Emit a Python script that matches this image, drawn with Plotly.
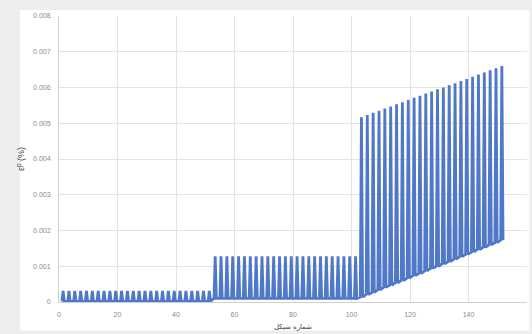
import plotly.graph_objects as go

# Per-cycle strain extremes (peak and trough of each loading cycle), three loading stages
peak_stage1 = [
    0.00031, 0.00031, 0.00031, 0.00031, 0.00031, 0.00031, 0.00031, 0.00031, 0.00031,
    0.00031, 0.00031, 0.00031, 0.00031, 0.00031, 0.00031, 0.00031, 0.00031, 0.00031,
    0.00031, 0.00031, 0.00031, 0.00031, 0.00031, 0.00031, 0.00031, 0.00031,
]
trough_stage1 = [
    0.00002, 0.00002, 0.00002, 0.00002, 0.00002, 0.00002, 0.00002, 0.00002, 0.00002,
    0.00002, 0.00002, 0.00002, 0.00002, 0.00002, 0.00002, 0.00002, 0.00002, 0.00002,
    0.00002, 0.00002, 0.00002, 0.00002, 0.00002, 0.00002, 0.00002, 0.00002,
]
peak_stage2 = [
    0.00128, 0.00128, 0.00128, 0.00128, 0.00128, 0.00128, 0.00128, 0.00128, 0.00128,
    0.00128, 0.00128, 0.00128, 0.00128, 0.00128, 0.00128, 0.00128, 0.00128, 0.00128,
    0.00128, 0.00128, 0.00128, 0.00128, 0.00128, 0.00128, 0.00128,
]
trough_stage2 = [
    0.00010, 0.00010, 0.00010, 0.00010, 0.00010, 0.00010, 0.00010, 0.00010, 0.00010,
    0.00010, 0.00010, 0.00010, 0.00010, 0.00010, 0.00010, 0.00010, 0.00010, 0.00010,
    0.00010, 0.00010, 0.00010, 0.00010, 0.00010, 0.00010, 0.00010,
]
peak_stage3 = [
    0.00517, 0.00523, 0.00529, 0.00535, 0.00541, 0.00547, 0.00553, 0.00559, 0.00565,
    0.00571, 0.00577, 0.00583, 0.00589, 0.00595, 0.00600, 0.00606, 0.00612, 0.00618,
    0.00624, 0.00630, 0.00636, 0.00642, 0.00648, 0.00654, 0.00660,
]
trough_stage3 = [
    0.00014, 0.00021, 0.00027, 0.00034, 0.00041, 0.00047, 0.00054, 0.00060, 0.00067,
    0.00074, 0.00080, 0.00087, 0.00094, 0.00100, 0.00107, 0.00113, 0.00120, 0.00127,
    0.00133, 0.00140, 0.00147, 0.00153, 0.00160, 0.00166, 0.00173,
]

peaks = peak_stage1 + peak_stage2 + peak_stage3
troughs = trough_stage1 + trough_stage2 + trough_stage3
cycle_start = list(range(1, 2 * len(peaks), 2))  # each recorded cycle spans two counts

x_ticks = [0, 20, 40, 60, 80, 100, 120, 140, 160]
y_ticks = [0, 0.001, 0.002, 0.003, 0.004, 0.005, 0.006, 0.007, 0.008]
y_tick_text = ["0", "0.001", "0.002", "0.003", "0.004", "0.005", "0.006", "0.007", "0.008"]

x_title = "شماره سیکل"
y_title = "ε<sup>p</sup> (%)"

# Build the load/unload path: trough -> peak -> trough for every cycle
xs, ys = [], []
for c, p, t in zip(cycle_start, peaks, troughs):
    xs += [c, c + 0.4, c + 0.8]
    ys += [t, p, t]

fig = go.Figure()
fig.add_trace(go.Scatter(
    x=xs, y=ys, mode="lines",
    line=dict(color="#5078c8", width=2.8),
    hoverinfo="skip", showlegend=False,
))

tick_font = dict(family="Liberation Sans, Arial, sans-serif", size=7, color="#8a8a8a")

fig.update_layout(
    width=532, height=334,
    margin=dict(l=59, r=5, t=16, b=32),
    paper_bgcolor="#eeeeee",
    plot_bgcolor="white",
    shapes=[dict(
        type="rect", xref="paper", yref="paper",
        x0=-0.083, x1=1.005, y0=-0.10, y1=1.021,
        fillcolor="white", line=dict(width=0), layer="below",
    )],
    xaxis=dict(
        range=[0, 160], tickvals=x_ticks, ticktext=[str(v) for v in x_ticks],
        showgrid=True, gridcolor="#e3e3e3", gridwidth=1,
        showline=True, linecolor="#cfcfcf", linewidth=1,
        zeroline=False, ticks="", tickfont=tick_font, ticklabelstandoff=6,
        title=dict(text=x_title, font=dict(family="Noto Sans, sans-serif", size=7, color="#404040"), standoff=6),
    ),
    yaxis=dict(
        range=[0, 0.008], tickvals=y_ticks, ticktext=y_tick_text,
        showgrid=True, gridcolor="#e3e3e3", gridwidth=1,
        showline=True, linecolor="#cfcfcf", linewidth=1,
        zeroline=False, ticks="", tickfont=tick_font, ticklabelstandoff=6,
        title=dict(text=y_title, font=dict(family="Liberation Sans, Arial, sans-serif", size=9, color="#404040"), standoff=6),
    ),
)

fig.write_html("out.html")
